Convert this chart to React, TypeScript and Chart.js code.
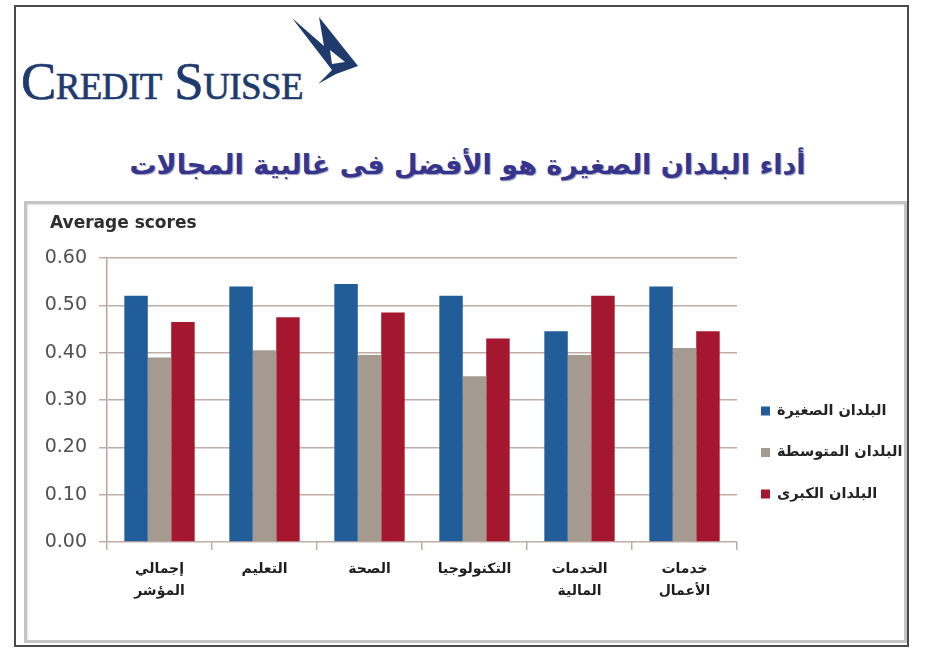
import React, { useEffect, useRef } from 'react';
import { Chart, registerables } from 'chart.js';

Chart.register(...registerables);

const categories: string[][] = [
  ['إجمالي', 'المؤشر'],
  ['التعليم'],
  ['الصحة'],
  ['التكنولوجيا'],
  ['الخدمات', 'المالية'],
  ['خدمات', 'الأعمال'],
];
const seriesNames = ['البلدان الصغيرة', 'البلدان المتوسطة', 'البلدان الكبرى'];
const smallCountries = [0.52, 0.54, 0.545, 0.52, 0.445, 0.54];
const mediumCountries = [0.39, 0.405, 0.395, 0.35, 0.395, 0.41];
const largeCountries = [0.465, 0.475, 0.485, 0.43, 0.52, 0.445];
const yMin = 0;
const yMax = 0.6;
const yStep = 0.1;
const yAxisTitle = 'Average scores';
const pageTitle = 'أداء البلدان الصغيرة هو الأفضل فى غالبية المجالات';
const logoText = 'Credit Suisse';

const overlayPlugin = {
  id: 'overlay',
  afterDraw(chart: any) {
    const ctx = chart.ctx as CanvasRenderingContext2D;
    const area = chart.chartArea;
    ctx.save();
    ctx.textBaseline = 'middle';
    ctx.textAlign = 'left';
    ctx.fillStyle = '#2e2e2e';
    ctx.font = 'bold 17px "DejaVu Sans"';
    ctx.fillText(yAxisTitle, area.left - 57, area.top - 34);
    chart.data.datasets.forEach((ds: any, i: number) => {
      const y = area.top + 153 + i * 41.5;
      ctx.fillStyle = ds.backgroundColor;
      ctx.fillRect(area.right + 24, y - 4.5, 9, 9);
      ctx.fillStyle = '#222';
      ctx.font = 'bold 14.5px "DejaVu Sans"';
      ctx.fillText(ds.label, area.right + 40, y);
    });
    ctx.restore();
  },
};

function BarChart() {
  const ref = useRef<HTMLCanvasElement | null>(null);
  useEffect(() => {
    if (!ref.current) return;
    const gridColor = '#c0aea6';
    const chart = new Chart(ref.current, {
      type: 'bar',
      data: {
        labels: categories,
        datasets: [
          { label: seriesNames[0], data: smallCountries, backgroundColor: '#215d98' },
          { label: seriesNames[1], data: mediumCountries, backgroundColor: '#a49a90' },
          { label: seriesNames[2], data: largeCountries, backgroundColor: '#a5172f' },
        ],
      },
      options: {
        animation: false,
        responsive: false,
        maintainAspectRatio: false,
        devicePixelRatio: 1,
        layout: { padding: { left: 0, right: 166, top: 54, bottom: 17 } },
        datasets: { bar: { categoryPercentage: 0.67, barPercentage: 1 } },
        plugins: {
          legend: { display: false },
          title: { display: false },
          tooltip: { enabled: false },
        },
        scales: {
          x: {
            afterFit: (s: any) => { s.height = 80; },
            grid: { drawOnChartArea: false, drawTicks: true, tickLength: 8, color: gridColor, lineWidth: 1.5 },
            border: { display: false },
            ticks: {
              color: '#1e1e1e',
              padding: 8,
              maxRotation: 0,
              autoSkip: false,
              font: { family: '"DejaVu Sans"', size: 14, weight: 'bold', lineHeight: 1.6 },
            },
          },
          y: {
            min: yMin,
            max: yMax,
            afterFit: (s: any) => { s.width = 80; },
            grid: { color: gridColor, lineWidth: 1.5, tickLength: 8, drawTicks: true },
            border: { display: true, color: '#b9a59c', width: 1.5 },
            ticks: {
              stepSize: yStep,
              padding: 12,
              color: '#505050',
              callback: (v: any) => Number(v).toFixed(2),
              font: { family: '"DejaVu Sans"', size: 19 },
            },
          },
        },
      },
      plugins: [overlayPlugin],
    } as any);
    return () => chart.destroy();
  }, []);
  return <canvas ref={ref} width={876} height={435} style={{ position: 'absolute', left: 27, top: 204, width: 876, height: 435 }} />;
}

export default function App() {
  return (
    <div style={{ position: 'absolute', left: 0, top: 0, width: 927, height: 650, background: '#fff', overflow: 'hidden' }}>
      <div style={{ position: 'absolute', left: 14, top: 5, width: 895, height: 642, border: '2px solid #4a4a4a', boxSizing: 'border-box' }} />
      <div style={{ position: 'absolute', left: 24, top: 201, width: 883, height: 442, border: '3px solid #c4c4c4', boxSizing: 'border-box', boxShadow: 'inset 1px 1px 2px #e0e0e0' }} />
      <svg style={{ position: 'absolute', left: 0, top: 0 }} width={927} height={200}>
        <path d="M 292 18 L 324 46 L 319 17 L 358 66 L 336 74 L 318 84 L 332 70 Z" fill="#1f3a6d" />
        <path d="M 330 50 L 345 62 L 332 64 Z" fill="#ffffff" />
        <text x={21} y={99} fontFamily='"Liberation Serif"' fontSize={53} fill="#1f3a6d" stroke="#1f3a6d" strokeWidth={0.6} style={{ fontVariant: 'small-caps' }} letterSpacing={-0.6}>{logoText}</text>
      </svg>
      <div dir="rtl" style={{ position: 'absolute', left: 0, width: 935, top: 143, textAlign: 'center', fontFamily: '"DejaVu Sans"', fontWeight: 'bold', fontSize: 27, lineHeight: '44px', color: '#35358e', textShadow: '1px 1px 1px #9a9ab8' }}>
        {pageTitle}
      </div>
      <BarChart />
    </div>
  );
}
